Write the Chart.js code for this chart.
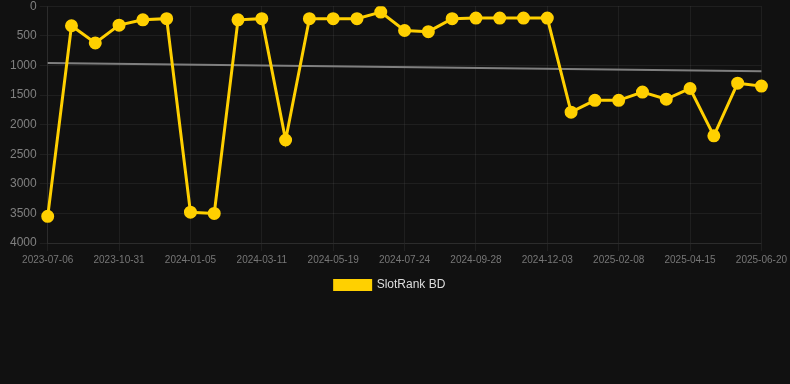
<!DOCTYPE html>
<html>
<head>
<meta charset="utf-8">
<script src="https://cdn.jsdelivr.net/npm/chart.js@4/dist/chart.umd.min.js"></script>
<style>
    html, body { margin: 0; padding: 0; background: #111111; overflow: hidden; }
    #wrap { width: 790px; height: 305px; position: relative; margin-top: -4px; }
</style>
</head>
<body>
<div id="wrap"><canvas id="rankChart"></canvas></div>
<script>
// dates (only every third one is printed on the axis)
const dates = [
    "2023-07-06", "2023-08-14", "2023-09-22", "2023-10-31", "2023-11-22", "2023-12-14",
    "2024-01-05", "2024-01-27", "2024-02-18", "2024-03-11", "2024-04-03", "2024-04-26",
    "2024-05-19", "2024-06-10", "2024-07-02", "2024-07-24", "2024-08-14", "2024-09-06",
    "2024-09-28", "2024-10-20", "2024-11-11", "2024-12-03", "2024-12-25", "2025-01-17",
    "2025-02-08", "2025-03-02", "2025-03-24", "2025-04-15", "2025-05-07", "2025-05-29",
    "2025-06-20"
];
const rankValues = [
    3550, 330, 620, 320, 230, 210,
    3480, 3500, 230, 210, 2260, 210,
    210, 210, 100, 410, 430, 210,
    200, 200, 200, 200, 1790, 1590,
    1590, 1450, 1570, 1390, 2190, 1300,
    1350
];
const trendLabels = ["2023-07-06", "2025-06-20"];
const trendValues = [960, 1100];
const yTicks = [0, 500, 1000, 1500, 2000, 2500, 3000, 3500, 4000];

const gold = "rgb(255, 208, 0)";
const gridColor = "rgba(255, 255, 255, 0.06)";
const fontFam = "Arial, Liberation Sans, sans-serif";

const ctx = document.getElementById("rankChart").getContext("2d");
const rankChart = new Chart(ctx, {
    type: "line",
    data: {
        labels: dates,
        datasets: [
            {
                label: "SlotRank BD",
                data: rankValues,
                borderColor: gold,
                backgroundColor: gold,
                borderWidth: 3,
                pointRadius: 5,
                pointHoverRadius: 5,
                pointBackgroundColor: gold,
                pointBorderColor: gold,
                tension: 0
            },
            {
                label: "trend",
                data: trendLabels.map((d, i) => ({ x: d, y: trendValues[i] })),
                borderColor: "rgba(140, 140, 140, 0.9)",
                borderWidth: 2,
                pointRadius: 0,
                tension: 0
            }
        ]
    },
    options: {
        responsive: true,
        maintainAspectRatio: false,
        animation: false,
        layout: { padding: { left: 0, right: 10, top: 0, bottom: 0 } },
        plugins: {
            tooltip: { enabled: false },
            legend: {
                position: "bottom",
                labels: {
                    color: "#dddddd",
                    boxWidth: 36,
                    boxHeight: 9,
                    font: { family: fontFam, size: 12 },
                    filter: item => item.text !== "trend"
                }
            }
        },
        scales: {
            x: {
                grid: {
                    color: c => (c.index % 3 === 0 ? gridColor : "transparent")
                },
                border: { color: gridColor },
                ticks: {
                    color: "#777777",
                    autoSkip: false,
                    maxRotation: 0,
                    font: { family: fontFam, size: 10 },
                    callback: function (val, idx) {
                        return idx % 3 === 0 ? this.getLabelForValue(val) : "";
                    }
                }
            },
            y: {
                reverse: true,
                min: yTicks[0],
                max: yTicks[yTicks.length - 1],
                afterFit: scale => { scale.width += 7; },
                grid: { color: gridColor },
                border: { color: gridColor },
                ticks: {
                    color: "#808080",
                    stepSize: 500,
                    font: { family: fontFam, size: 12 },
                    callback: v => String(v)
                }
            }
        }
    }
});
</script>
</body>
</html>
